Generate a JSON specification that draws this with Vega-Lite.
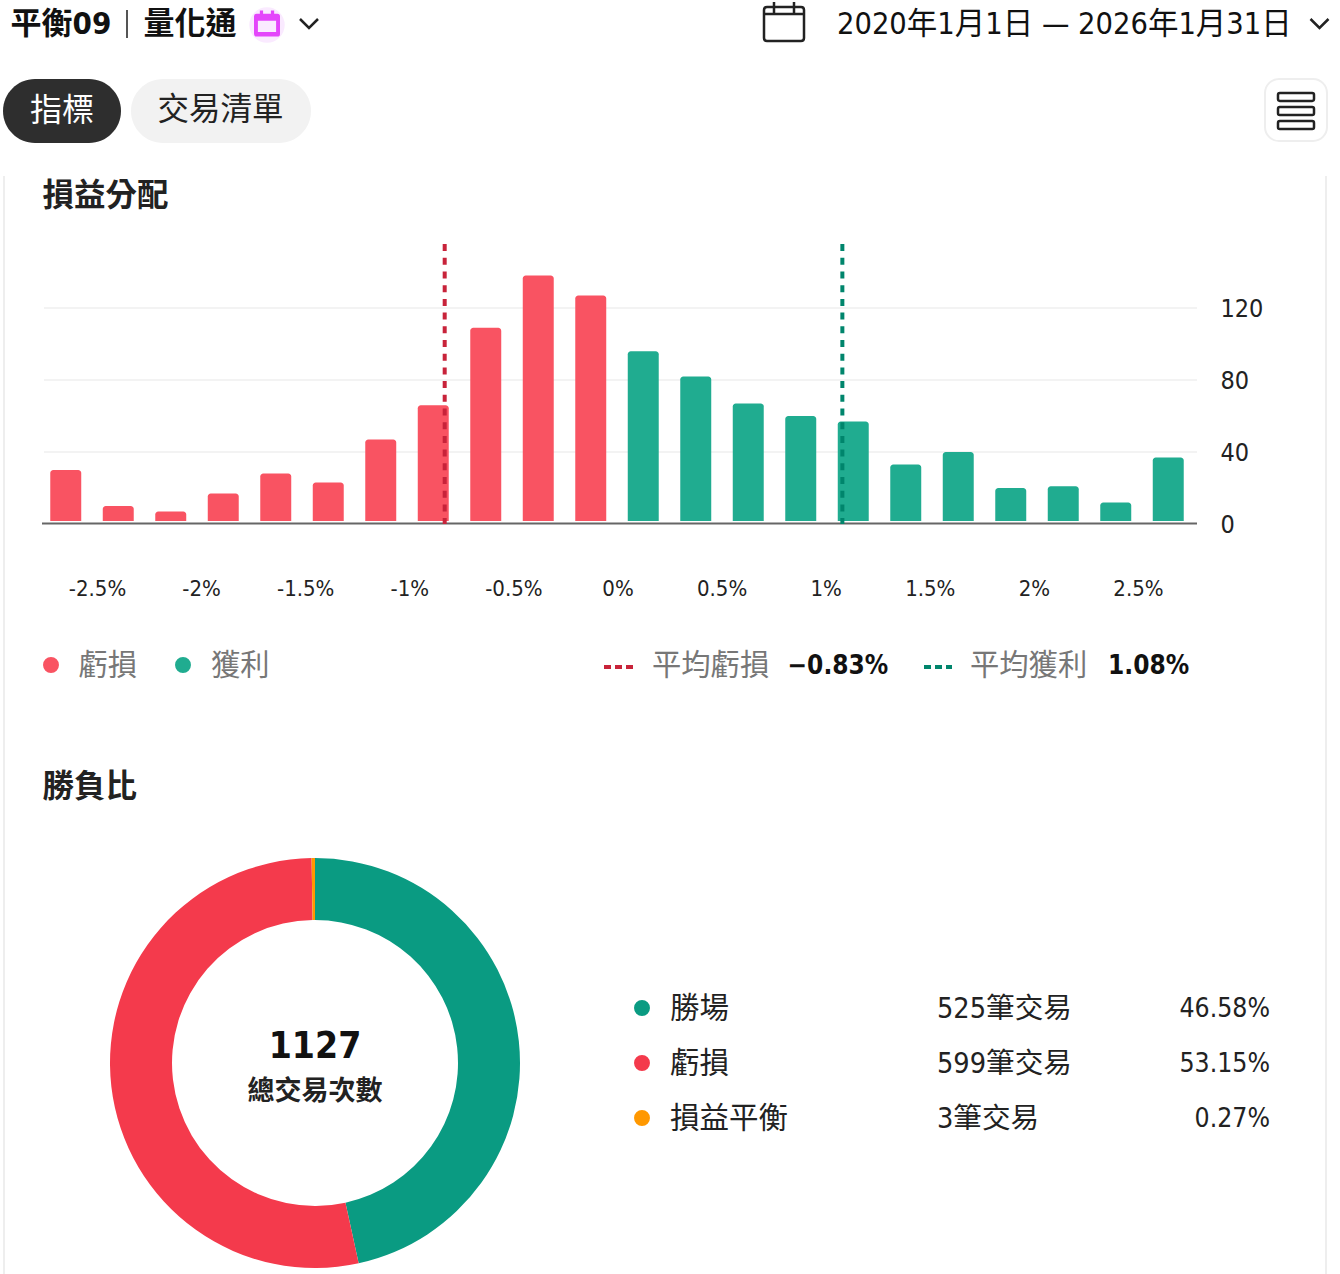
{
  "$schema": "https://vega.github.io/schema/vega-lite/v6.json",
  "width": 1340,
  "height": 1274,
  "padding": 0,
  "autosize": {"type": "none"},
  "background": "white",
  "config": {"font": "DejaVu Sans Condensed, Noto Sans CJK TC", "view": {"stroke": null}},
  "datasets": {
    "bins": [
      {"bin": -2.625, "count": 30, "side": "loss"},
      {"bin": -2.375, "count": 10, "side": "loss"},
      {"bin": -2.125, "count": 7, "side": "loss"},
      {"bin": -1.875, "count": 17, "side": "loss"},
      {"bin": -1.625, "count": 28, "side": "loss"},
      {"bin": -1.375, "count": 23, "side": "loss"},
      {"bin": -1.125, "count": 47, "side": "loss"},
      {"bin": -0.875, "count": 66, "side": "loss"},
      {"bin": -0.625, "count": 109, "side": "loss"},
      {"bin": -0.375, "count": 138, "side": "loss"},
      {"bin": -0.125, "count": 127, "side": "loss"},
      {"bin": 0.125, "count": 96, "side": "gain"},
      {"bin": 0.375, "count": 82, "side": "gain"},
      {"bin": 0.625, "count": 67, "side": "gain"},
      {"bin": 0.875, "count": 60, "side": "gain"},
      {"bin": 1.125, "count": 57, "side": "gain"},
      {"bin": 1.375, "count": 33, "side": "gain"},
      {"bin": 1.625, "count": 40, "side": "gain"},
      {"bin": 1.875, "count": 20, "side": "gain"},
      {"bin": 2.125, "count": 21, "side": "gain"},
      {"bin": 2.375, "count": 12, "side": "gain"},
      {"bin": 2.625, "count": 37, "side": "gain"}
    ],
    "means": [
      {"avg": -0.83, "side": "loss"},
      {"avg": 1.08, "side": "gain"}
    ],
    "ratio": [
      {"name": "勝場", "trades": 525, "label": "525筆交易", "pct": "46.58%", "rank": 1},
      {"name": "虧損", "trades": 599, "label": "599筆交易", "pct": "53.15%", "rank": 2},
      {"name": "損益平衡", "trades": 3, "label": "3筆交易", "pct": "0.27%", "rank": 3}
    ],
    "texts": [
      {"text": "平衡09", "kind": "title", "c": 3, "r": 4},
      {"text": "量化通", "kind": "title", "c": 11, "r": 4},
      {"text": "2020年1月1日 — 2026年1月31日", "kind": "date", "c": 24, "r": 4},
      {"text": "指標", "kind": "tabOn", "c": 4, "r": 9},
      {"text": "交易清單", "kind": "tabOff", "c": 12, "r": 9},
      {"text": "損益分配", "kind": "heading", "c": 5, "r": 12},
      {"text": "勝負比", "kind": "heading", "c": 5, "r": 15},
      {"text": "虧損", "kind": "legend", "c": 7, "r": 20},
      {"text": "獲利", "kind": "legend", "c": 14, "r": 20},
      {"text": "平均虧損", "kind": "legend", "c": 21, "r": 20},
      {"text": "平均獲利", "kind": "legend", "c": 27, "r": 20},
      {"text": "−0.83%", "kind": "stat", "c": 22, "r": 20},
      {"text": "1.08%", "kind": "stat", "c": 28, "r": 20},
      {"text": "1127", "kind": "total", "c": 18, "r": 16},
      {"text": "總交易次數", "kind": "caption", "c": 18, "r": 17}
    ],
    "boxes": [
      {"part": "tabOn", "c": 1, "c2": 8, "r": 7, "r2": 10},
      {"part": "tabOff", "c": 10, "c2": 17, "r": 7, "r2": 10},
      {"part": "menu", "c": 29, "c2": 33, "r": 7, "r2": 19}
    ],
    "lines": [
      {"part": "border", "c": 2, "r": 11, "r2": 18},
      {"part": "border", "c": 32, "r": 11, "r2": 18},
      {"part": "divider", "c": 9, "r": 1, "r2": 6}
    ],
    "keys": [
      {"side": "loss", "c": 19, "c2": 20, "r": 14},
      {"side": "gain", "c": 25, "c2": 26, "r": 14}
    ],
    "dots": [
      {"side": "loss", "c": 6, "r": 13},
      {"side": "gain", "c": 13, "r": 13}
    ],
    "icons": [
      {"icon": "badge", "c": 15, "r": 5},
      {"icon": "glyph", "c": 15, "r": 3},
      {"icon": "calendar", "c": 23, "r": 2},
      {"icon": "chevron", "c": 16, "r": 3},
      {"icon": "chevron", "c": 31, "r": 3},
      {"icon": "menu", "c": 30, "r": 9}
    ]
  },
  "resolve": {
    "scale": {"x": "independent", "y": "independent", "color": "independent", "fill": "independent", "theta": "independent"},
    "axis": {"x": "independent", "y": "independent"}
  },
  "layer": [
    {
      "encoding": {
        "x": {"field": "c", "type": "quantitative", "axis": null, "scale": {
          "domain": [1,2,3,4,5,6,7,8,9,10,11,12,13,14,15,16,17,18,19,20,21,22,23,24,25,26,27,28,29,30,31,32,33],
          "range": [3,4,10.5,30,42.5,51,78.5,121,127,131,143.5,157.5,183,211,267,309,311,315,604,633,652,787.5,784,837,924,952,970,1108,1265,1296,1319.5,1326,1327]
        }},
        "y": {"field": "r", "type": "quantitative", "axis": null, "scale": {
          "domain": [1,2,3,4,5,6,7,8,9,10,11,12,13,14,15,16,17,18,19,20],
          "range": [10,22,23.5,25,25,38,79,110,111,143,176,197,665,667,788,1047,1092,1274,141,666]
        }}
      },
      "layer": [
        {
          "data": {"name": "lines"},
          "transform": [{"filter": "datum.part == 'border'"}],
          "mark": {"type": "rule", "color": "#eeeeee", "strokeWidth": 2},
          "encoding": {"y2": {"field": "r2"}}
        },
        {
          "data": {"name": "lines"},
          "transform": [{"filter": "datum.part == 'divider'"}],
          "mark": {"type": "rule", "color": "#555555", "strokeWidth": 2},
          "encoding": {"y2": {"field": "r2"}}
        },
        {
          "data": {"name": "boxes"},
          "transform": [{"filter": "datum.part == 'tabOn'"}],
          "mark": {"type": "rect", "color": "#2e2e2e", "cornerRadius": 32},
          "encoding": {"x2": {"field": "c2"}, "y2": {"field": "r2"}}
        },
        {
          "data": {"name": "boxes"},
          "transform": [{"filter": "datum.part == 'tabOff'"}],
          "mark": {"type": "rect", "color": "#f2f2f2", "cornerRadius": 32},
          "encoding": {"x2": {"field": "c2"}, "y2": {"field": "r2"}}
        },
        {
          "data": {"name": "boxes"},
          "transform": [{"filter": "datum.part == 'menu'"}],
          "mark": {"type": "rect", "fill": "white", "stroke": "#eeeeee", "strokeWidth": 2, "cornerRadius": 14},
          "encoding": {"x2": {"field": "c2"}, "y2": {"field": "r2"}}
        },
        {
          "data": {"name": "icons"},
          "transform": [{"filter": "datum.icon == 'badge'"}],
          "mark": {"type": "point", "shape": "circle", "filled": true, "fill": "#faeaff", "size": 1257, "opacity": 1, "stroke": null}
        },
        {
          "data": {"name": "icons"},
          "transform": [{"filter": "datum.icon == 'glyph'"}],
          "mark": {"type": "point", "filled": true, "fill": "#e445fb", "size": 676, "opacity": 1, "stroke": null,
            "shape": "M-0.8,-0.75 H-0.55 V-1 H-0.3 V-0.75 H0.3 V-1 H0.55 V-0.75 H0.8 Q1,-0.75 1,-0.55 V0.8 Q1,1 0.8,1 H-0.8 Q-1,1 -1,0.8 V-0.55 Q-1,-0.75 -0.8,-0.75 Z M-0.7,-0.22 V0.65 H0.7 V-0.22 Z"}
        },
        {
          "data": {"name": "icons"},
          "transform": [{"filter": "datum.icon == 'calendar'"}],
          "mark": {"type": "point", "filled": false, "stroke": "#222222", "strokeWidth": 2.5, "size": 1600, "opacity": 1,
            "shape": "M-0.85,-0.75 H0.85 Q1,-0.75 1,-0.6 V0.8 Q1,0.95 0.85,0.95 H-0.85 Q-1,0.95 -1,0.8 V-0.6 Q-1,-0.75 -0.85,-0.75 Z M-1,-0.4 H1 M-0.5,-1 V-0.4 M0.5,-1 V-0.4"}
        },
        {
          "data": {"name": "icons"},
          "transform": [{"filter": "datum.icon == 'chevron'"}],
          "mark": {"type": "point", "filled": false, "stroke": "#222222", "strokeWidth": 2.5, "size": 324, "opacity": 1,
            "shape": "M-1,-0.5 L0,0.5 L1,-0.5"}
        },
        {
          "data": {"name": "icons"},
          "transform": [{"filter": "datum.icon == 'menu'"}],
          "mark": {"type": "point", "filled": false, "stroke": "#222222", "strokeWidth": 2.5, "size": 1296, "opacity": 1,
            "shape": "M-0.9,-1 H0.9 Q1,-1 1,-0.9 V-0.66 Q1,-0.56 0.9,-0.56 H-0.9 Q-1,-0.56 -1,-0.66 V-0.9 Q-1,-1 -0.9,-1 Z M-0.9,-0.22 H0.9 Q1,-0.22 1,-0.12 V0.12 Q1,0.22 0.9,0.22 H-0.9 Q-1,0.22 -1,0.12 V-0.12 Q-1,-0.22 -0.9,-0.22 Z M-0.9,0.56 H0.9 Q1,0.56 1,0.66 V0.9 Q1,1 0.9,1 H-0.9 Q-1,1 -1,0.9 V0.66 Q-1,0.56 -0.9,0.56 Z"}
        },
        {
          "data": {"name": "keys"},
          "mark": {"type": "rule", "strokeWidth": 4, "strokeDash": [7, 4]},
          "encoding": {
            "x2": {"field": "c2"},
            "color": {"field": "side", "type": "nominal", "legend": null, "scale": {"domain": ["loss", "gain"], "range": ["#c8233a", "#00856c"]}}
          }
        },
        {
          "data": {"name": "dots"},
          "mark": {"type": "point", "shape": "circle", "filled": true, "size": 254, "opacity": 1},
          "encoding": {
            "fill": {"field": "side", "type": "nominal", "legend": null, "scale": {"domain": ["loss", "gain"], "range": ["#f95362", "#20ac90"]}}
          }
        },
        {
          "data": {"name": "texts"},
          "transform": [{"filter": "datum.kind == 'title'"}],
          "mark": {"type": "text", "align": "left", "baseline": "middle", "fontSize": 31, "fontWeight": "bold", "color": "#111111"},
          "encoding": {"text": {"field": "text"}}
        },
        {
          "data": {"name": "texts"},
          "transform": [{"filter": "datum.kind == 'date'"}],
          "mark": {"type": "text", "align": "left", "baseline": "middle", "fontSize": 30.5, "color": "#111111"},
          "encoding": {"text": {"field": "text"}}
        },
        {
          "data": {"name": "texts"},
          "transform": [{"filter": "datum.kind == 'tabOn'"}],
          "mark": {"type": "text", "align": "left", "baseline": "middle", "fontSize": 32, "color": "white"},
          "encoding": {"text": {"field": "text"}}
        },
        {
          "data": {"name": "texts"},
          "transform": [{"filter": "datum.kind == 'tabOff'"}],
          "mark": {"type": "text", "align": "left", "baseline": "middle", "fontSize": 31.5, "color": "#222222"},
          "encoding": {"text": {"field": "text"}}
        },
        {
          "data": {"name": "texts"},
          "transform": [{"filter": "datum.kind == 'heading'"}],
          "mark": {"type": "text", "align": "left", "baseline": "middle", "fontSize": 31.5, "fontWeight": "bold", "color": "#222222"},
          "encoding": {"text": {"field": "text"}}
        },
        {
          "data": {"name": "texts"},
          "transform": [{"filter": "datum.kind == 'legend'"}],
          "mark": {"type": "text", "align": "left", "baseline": "middle", "fontSize": 29.3, "color": "#777777"},
          "encoding": {"text": {"field": "text"}}
        },
        {
          "data": {"name": "texts"},
          "transform": [{"filter": "datum.kind == 'stat'"}],
          "mark": {"type": "text", "align": "left", "baseline": "middle", "fontSize": 26, "fontWeight": "bold", "color": "#111111"},
          "encoding": {"text": {"field": "text"}}
        },
        {
          "data": {"name": "texts"},
          "transform": [{"filter": "datum.kind == 'total'"}],
          "mark": {"type": "text", "align": "center", "baseline": "middle", "fontSize": 37, "fontWeight": "bold", "color": "#111111"},
          "encoding": {"text": {"field": "text"}}
        },
        {
          "data": {"name": "texts"},
          "transform": [{"filter": "datum.kind == 'caption'"}],
          "mark": {"type": "text", "align": "center", "baseline": "middle", "fontSize": 27, "fontWeight": "bold", "color": "#222222"},
          "encoding": {"text": {"field": "text"}}
        }
      ]
    },
    {
      "data": {"values": [{"count": 40}, {"count": 80}, {"count": 120}]},
      "mark": {"type": "rule", "color": "#f3f3f3", "strokeWidth": 2},
      "encoding": {
        "x": {"datum": 0, "type": "quantitative", "axis": null, "scale": {"domain": [0, 1], "range": [44, 1197]}},
        "x2": {"datum": 1},
        "y": {"field": "count", "type": "quantitative", "axis": null, "scale": {"domain": [0, 120], "range": [524, 308]}}
      }
    },
    {
      "data": {"name": "bins"},
      "mark": {"type": "bar", "cornerRadiusTopLeft": 3, "cornerRadiusTopRight": 3},
      "encoding": {
        "x": {"field": "bin", "type": "ordinal", "axis": null, "scale": {"type": "band", "range": [39.5, 1194.5], "paddingInner": 0.41, "paddingOuter": 0.205}},
        "y": {"field": "count", "type": "quantitative", "stack": null,
          "scale": {"domain": [0, 120], "range": [524, 308]},
          "axis": {"orient": "right", "offset": -143, "values": [0, 40, 80, 120], "title": null, "domain": false, "ticks": false, "grid": false, "labelPadding": 23, "labelFontSize": 25, "labelColor": "#222222", "labelFontWeight": "normal", "labelOffset": 0}
        },
        "y2": {"datum": 1.7},
        "color": {"field": "side", "type": "nominal", "legend": null, "scale": {"domain": ["loss", "gain"], "range": ["#f95362", "#20ac90"]}}
      }
    },
    {
      "data": {"values": [{"count": 0}]},
      "mark": {"type": "rule", "color": "#666666", "strokeWidth": 2},
      "encoding": {
        "x": {"datum": 0, "type": "quantitative", "axis": null, "scale": {"domain": [0, 1], "range": [42, 1197]}},
        "x2": {"datum": 1},
        "y": {"field": "count", "type": "quantitative", "axis": null, "scale": {"domain": [0, 120], "range": [523.5, 307.5]}}
      }
    },
    {
      "data": {"name": "means"},
      "mark": {"type": "rule", "strokeWidth": 4, "strokeDash": [7, 6.7]},
      "encoding": {
        "x": {"field": "avg", "type": "quantitative", "scale": {"domain": [-2.5, 2.5], "range": [97, 1138]},
          "axis": {"orient": "bottom", "offset": -686, "values": [-2.5, -2, -1.5, -1, -0.5, 0, 0.5, 1, 1.5, 2, 2.5], "labelExpr": "datum.value + '%'", "title": null, "domain": false, "ticks": false, "grid": false, "labelPadding": 0, "labelBaseline": "middle", "labelFontSize": 22, "labelColor": "#222222", "labelOverlap": false, "labelFlush": false, "labelBound": false}
        },
        "y": {"datum": 155.5, "type": "quantitative", "axis": null, "scale": {"domain": [0, 120], "range": [524, 308]}},
        "y2": {"datum": 0},
        "color": {"field": "side", "type": "nominal", "legend": null, "scale": {"domain": ["loss", "gain"], "range": ["#c8233a", "#00856c"]}}
      }
    },
    {
      "data": {"name": "ratio"},
      "mark": {"type": "arc", "outerRadius": 205, "innerRadius": 143},
      "encoding": {
        "x": {"datum": 0.5, "type": "quantitative", "axis": null, "scale": {"domain": [0, 1], "range": [110, 520]}},
        "y": {"datum": 0.5, "type": "quantitative", "axis": null, "scale": {"domain": [0, 1], "range": [1268, 858]}},
        "theta": {"field": "trades", "type": "quantitative"},
        "order": {"field": "rank"},
        "color": {"field": "name", "type": "nominal", "legend": null, "scale": {"domain": ["勝場", "虧損", "損益平衡"], "range": ["#0a9b82", "#f43a4c", "#ff9800"]}}
      }
    },
    {
      "data": {"name": "ratio"},
      "encoding": {
        "y": {"field": "name", "type": "nominal", "axis": null, "scale": {"type": "point", "domain": ["勝場", "虧損", "損益平衡"], "range": [1008, 1118], "padding": 0}}
      },
      "layer": [
        {
          "mark": {"type": "point", "shape": "circle", "filled": true, "size": 254, "opacity": 1},
          "encoding": {
            "x": {"datum": 1, "type": "quantitative", "axis": null, "scale": {"domain": [1, 2, 3, 4], "range": [642, 670, 937, 1270]}},
            "fill": {"field": "name", "type": "nominal", "legend": null, "scale": {"domain": ["勝場", "虧損", "損益平衡"], "range": ["#0a9b82", "#f43a4c", "#ff9800"]}}
          }
        },
        {
          "mark": {"type": "text", "align": "left", "baseline": "middle", "dy": 1, "fontSize": 29.5, "color": "#222222"},
          "encoding": {
            "x": {"datum": 2, "type": "quantitative", "axis": null, "scale": {"domain": [1, 2, 3, 4], "range": [642, 670, 937, 1270]}},
            "text": {"field": "name"}
          }
        },
        {
          "mark": {"type": "text", "align": "left", "baseline": "middle", "dy": 1, "fontSize": 28.6, "color": "#222222"},
          "encoding": {
            "x": {"datum": 3, "type": "quantitative", "axis": null, "scale": {"domain": [1, 2, 3, 4], "range": [642, 670, 937, 1270]}},
            "text": {"field": "label"}
          }
        },
        {
          "mark": {"type": "text", "align": "right", "baseline": "middle", "dy": 1, "fontSize": 26.4, "color": "#222222"},
          "encoding": {
            "x": {"datum": 4, "type": "quantitative", "axis": null, "scale": {"domain": [1, 2, 3, 4], "range": [642, 670, 937, 1270]}},
            "text": {"field": "pct"}
          }
        }
      ]
    }
  ]
}
